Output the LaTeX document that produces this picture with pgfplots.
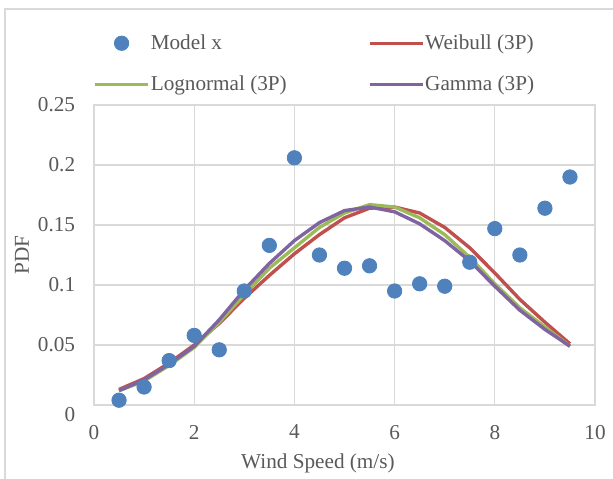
\documentclass[border=0pt]{standalone}
\usepackage{fontspec}
\setmainfont{Liberation Serif}
\usepackage{pgfplots}
\pgfplotsset{compat=1.18}
\definecolor{txt}{HTML}{595959}
\definecolor{gridc}{HTML}{D9D9D9}
\definecolor{cblue}{HTML}{4F81BD}
\definecolor{cred}{HTML}{C0504D}
\definecolor{cgreen}{HTML}{9BBB59}
\definecolor{cpurple}{HTML}{8064A2}
\pgfplotsset{
  lineleg/.style={legend image code/.code={\draw[##1] (0pt,0pt) -- (26.5pt,0pt);}},
  dotleg/.style={legend image code/.code={\path (0pt,0pt) (26.5pt,0pt); \draw[##1] plot coordinates {(13.25pt,0pt)};}},
}
\begin{document}
\begin{tikzpicture}[font=\fontsize{10.6}{12.7}\selectfont]
\useasboundingbox (-47pt,-36.5pt) rectangle (259.5pt,202.5pt);
\draw[gridc, line width=0.6pt] (-44.5pt,-40pt) -- (-44.5pt,198pt) -- (265pt,198pt);
\begin{axis}[
  scale only axis, width=250.5pt, height=150pt,
  at={(0,0)}, anchor=south west,
  xmin=0, xmax=10, ymin=0, ymax=0.25,
  xtick={0,2,4,6,8,10}, xticklabels={0,2,4,6,8,10},
  ytick={0,0.05,0.1,0.15,0.2,0.25},
  yticklabels={\raisebox{-4.5pt}[\height][0pt]{0},0.05,0.1,0.15,0.2,0.25},
  tick style={draw=none},
  grid=major, major grid style={gridc, line width=0.6pt},
  axis line style={gridc, line width=0.6pt},
  clip=false,
  every tick label/.append style={text=txt},
  yticklabel style={anchor=east, inner sep=0pt, xshift=-9.25pt},
  xticklabel style={anchor=north, inner sep=0pt, yshift=-9.8pt},
  xlabel={Wind Speed (m/s)}, ylabel={PDF},
  every axis x label/.style={at={(axis description cs:0.447,0)}, yshift=-29pt, anchor=center, text=txt},
  every axis y label/.style={at={(axis description cs:0,0.5)}, xshift=-36pt, rotate=90, anchor=center, text=txt},
  legend columns=2,
  legend style={at={(axis description cs:-0.002,1.2367)}, anchor=north west,
    draw=none, fill=none, inner sep=0pt, text=txt, row sep=11.75pt,
    nodes={inner sep=0pt},
    /tikz/every odd column/.append style={column sep=0.5pt},
    /tikz/every even column/.append style={column sep=40.5pt}},
  legend cell align=left,
]
\addlegendimage{only marks, mark=*, mark size=3.6pt, color=cblue, dotleg}
\addlegendentry{Model x}
\addlegendimage{line width=1.7pt, color=cred, lineleg}
\addlegendentry{Weibull (3P)}
\addlegendimage{line width=1.7pt, color=cgreen, lineleg}
\addlegendentry{Lognormal (3P)}
\addlegendimage{line width=1.7pt, color=cpurple, lineleg}
\addlegendentry{Gamma (3P)}

% Weibull (3P)
\addplot[line width=1.7pt, color=cred, mark=none, forget plot] coordinates {
  (0.5,0.013) (1,0.022) (1.5,0.035) (2,0.050) (2.5,0.068) (3,0.089)
  (3.5,0.108) (4,0.126) (4.5,0.142) (5,0.156) (5.5,0.164) (6,0.165)
  (6.5,0.160) (7,0.148) (7.5,0.131) (8,0.110) (8.5,0.088) (9,0.069) (9.5,0.051)
};
% Lognormal (3P)
\addplot[line width=1.7pt, color=cgreen, mark=none, forget plot] coordinates {
  (0.5,0.012) (1,0.020) (1.5,0.033) (2,0.048) (2.5,0.069) (3,0.092)
  (3.5,0.114) (4,0.131) (4.5,0.148) (5,0.160) (5.5,0.167) (6,0.165)
  (6.5,0.156) (7,0.142) (7.5,0.123) (8,0.101) (8.5,0.081) (9,0.065) (9.5,0.049)
};
% Gamma (3P)
\addplot[line width=1.7pt, color=cpurple, mark=none, forget plot] coordinates {
  (0.5,0.012) (1,0.021) (1.5,0.034) (2,0.049) (2.5,0.071) (3,0.096)
  (3.5,0.118) (4,0.137) (4.5,0.152) (5,0.162) (5.5,0.165) (6,0.161)
  (6.5,0.151) (7,0.137) (7.5,0.120) (8,0.099) (8.5,0.079) (9,0.063) (9.5,0.049)
};
% Model x
\addplot[only marks, mark=*, mark size=3.6pt, color=cblue, forget plot] coordinates {
  (0.5,0.004) (1,0.015) (1.5,0.037) (2,0.058) (2.5,0.046) (3,0.095)
  (3.5,0.133) (4,0.206) (4.5,0.125) (5,0.114) (5.5,0.116) (6,0.095)
  (6.5,0.101) (7,0.099) (7.5,0.119) (8,0.147) (8.5,0.125) (9,0.164) (9.5,0.190)
};
\end{axis}
\end{tikzpicture}
\end{document}
